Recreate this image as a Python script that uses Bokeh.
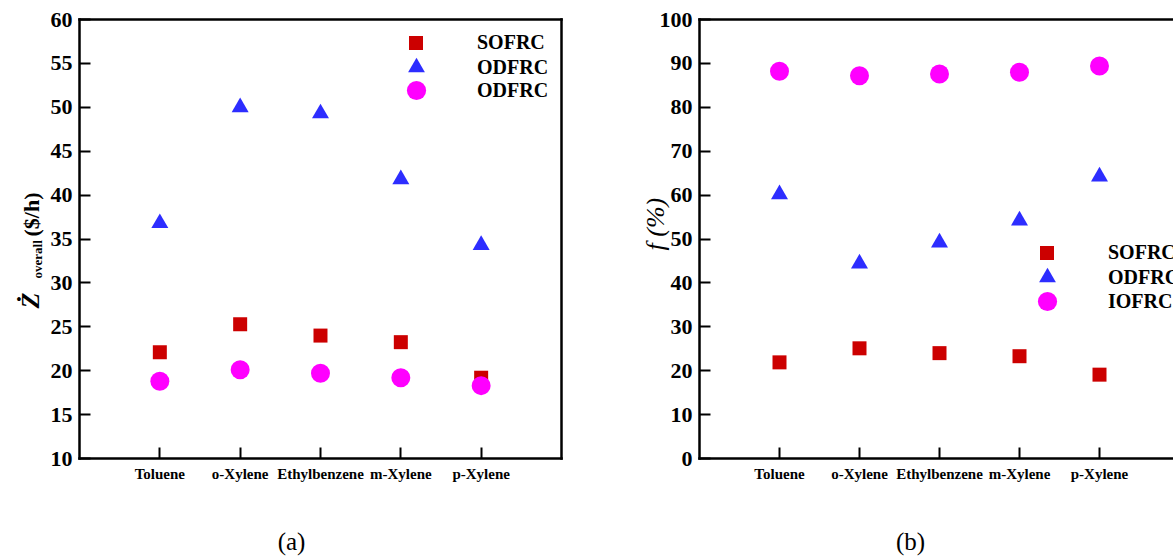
import math
from bokeh.plotting import figure
from bokeh.models import (Range1d, LinearAxis, FixedTicker, Label, Legend, LegendItem)
from bokeh.layouts import row
from bokeh.embed import file_html
from bokeh.resources import INLINE

# ---------------- data ----------------
compounds = ["Toluene", "o-Xylene", "Ethylbenzene", "m-Xylene", "p-Xylene"]
positions = [i + 1 for i in range(len(compounds))]

zdot_sofrc = [22.1, 25.3, 24.0, 23.25, 19.2]
zdot_odfrc = [36.8, 50.0, 49.3, 41.8, 34.3]
zdot_iofrc = [18.8, 20.1, 19.7, 19.2, 18.3]

f_sofrc = [21.9, 25.1, 24.0, 23.3, 19.1]
f_odfrc = [60.2, 44.4, 49.2, 54.2, 64.2]
f_iofrc = [88.2, 87.2, 87.6, 88.0, 89.4]

legend_a = ["SOFRC", "ODFRC", "ODFRC"]
legend_b = ["SOFRC", "ODFRC", "IOFRC"]

yticks_a = list(range(10, 61, 5))
yticks_b = list(range(0, 101, 10))

# ---------------- style / layout ----------------
SERIF = "Liberation Serif"
RED = "#CC0000"
BLUE = "#2D2DFF"
MAG = "#FF00FF"
AXW = 2.5
H = 556


def style_axis(ax, ticks, labels=True):
    ax.axis_line_width = AXW
    ax.axis_line_color = "black"
    ax.axis_line_cap = "square"
    ax.major_tick_in = 11
    ax.major_tick_out = 0
    ax.major_tick_line_width = 2
    ax.major_tick_line_color = "black"
    ax.minor_tick_line_color = None
    ax.ticker = FixedTicker(ticks=ticks)
    ax.major_label_text_color = "black"
    if not labels:
        ax.major_label_text_font_size = "0px"
        ax.major_tick_line_color = None


def make_panel(width, box_left, px_per_x, box_right, yr):
    # the plotting frame fills the whole canvas; axes are pinned at the box edges
    box_top, box_bottom = 19, 458
    ppy = (box_bottom - box_top) / (yr[1] - yr[0])
    x0 = -box_left / px_per_x
    x1 = (width - box_left) / px_per_x
    y1 = yr[1] + box_top / ppy
    y0 = yr[0] - (H - box_bottom) / ppy
    p = figure(width=width, height=H, output_backend="svg", toolbar_location=None,
               x_range=Range1d(x0, x1), y_range=Range1d(y0, y1),
               min_border=0, min_border_left=0, min_border_right=0,
               min_border_top=0, min_border_bottom=0,
               x_axis_location=None, y_axis_location=None)
    p.title = None
    p.outline_line_color = None
    p.xgrid.visible = False
    p.ygrid.visible = False
    p.background_fill_color = "white"
    p.border_fill_color = "white"
    xr_end = min(box_right, x1)
    return p, xr_end


def add_axes(p, yr, yticks, xend, right_border):
    yax = LinearAxis(fixed_location=0, bounds=(yr[0], yr[1]))
    style_axis(yax, yticks)
    yax.major_label_text_font = SERIF
    yax.major_label_text_font_style = "bold"
    yax.major_label_text_font_size = "22px"
    yax.major_label_standoff = 7
    p.add_layout(yax, "left")

    xax = LinearAxis(fixed_location=yr[0], bounds=(0, xend))
    style_axis(xax, positions)
    xax.major_label_overrides = {pos: name for pos, name in zip(positions, compounds)}
    xax.major_label_text_font = SERIF
    xax.major_label_text_font_style = "bold"
    xax.major_label_text_font_size = "15px"
    xax.major_label_standoff = 7
    p.add_layout(xax, "below")

    tax = LinearAxis(fixed_location=yr[1], bounds=(0, xend))
    style_axis(tax, [], labels=False)
    p.add_layout(tax, "above")
    if right_border:
        rax = LinearAxis(fixed_location=xend, bounds=(yr[0], yr[1]))
        style_axis(rax, [], labels=False)
        p.add_layout(rax, "right")


def add_series(p, s_vals, t_vals, c_vals):
    rs = p.scatter(positions, s_vals, marker="square", size=14, color=RED, line_width=0)
    rt = p.scatter(positions, t_vals, marker="triangle", size=17, color=BLUE, line_width=0)
    rc = p.scatter(positions, c_vals, marker="circle", size=19, color=MAG, line_width=0)
    return [rs, rt, rc]


def add_legend(p, renderers, labels, mx, my_list, tx):
    sizes = [35, 42, 48]
    for r, lab, my, gs in zip(renderers, labels, my_list, sizes):
        leg = Legend(items=[LegendItem(label=lab, renderers=[r])],
                     location=(int(round(mx - gs / 2)), int(round(H - (my + gs / 2)))),
                     glyph_width=gs, glyph_height=gs, label_height=gs,
                     label_standoff=int(round(tx - (mx + gs / 2))), padding=0, margin=0, spacing=0,
                     border_line_color=None, background_fill_alpha=0,
                     label_text_font=SERIF, label_text_font_style="bold",
                     label_text_font_size="20px", label_text_color="black")
        p.add_layout(leg, "center")


def add_text(p, x, y_top, text, size, style="bold", angle=0.0, align="left"):
    p.add_layout(Label(x=x, y=H - y_top, x_units="screen", y_units="screen",
                       text=text, angle=angle, text_font=SERIF,
                       text_font_style=style, text_font_size=size,
                       text_baseline="middle", text_align=align,
                       text_color="black"))


# ---------------- panel (a) ----------------
yr_a = (10, 60)
pa, xend_a = make_panel(611, 79, 80.33, 6, yr_a)
add_axes(pa, yr_a, yticks_a, xend_a, True)
ra = add_series(pa, zdot_sofrc, zdot_odfrc, zdot_iofrc)
add_legend(pa, ra, legend_a, 416, [42.5, 66.5, 90], 477)

V = math.pi / 2
add_text(pa, 30, 308, "\u017B", "26px", "bold italic", V)
add_text(pa, 36.5, 278, "overall", "13px", "bold", V)
add_text(pa, 30.5, 236, "($/h)", "22px", "bold", V)
add_text(pa, 291, 541, "(a)", "25px", "normal", 0.0, "center")

# ---------------- panel (b) ----------------
yr_b = (0, 100)
pb, xend_b = make_panel(562, 88, 80.0, 99, yr_b)
add_axes(pb, yr_b, yticks_b, xend_b, False)
rb = add_series(pb, f_sofrc, f_odfrc, f_iofrc)
add_legend(pb, rb, legend_b, 436, [252.7, 277, 301], 497)

add_text(pb, 44, 250, "f (%)", "26px", "italic", V)
add_text(pb, 299, 541, "(b)", "25px", "normal", 0.0, "center")

layout = row(pa, pb)
open("out.html", "w").write(file_html(layout, INLINE))
